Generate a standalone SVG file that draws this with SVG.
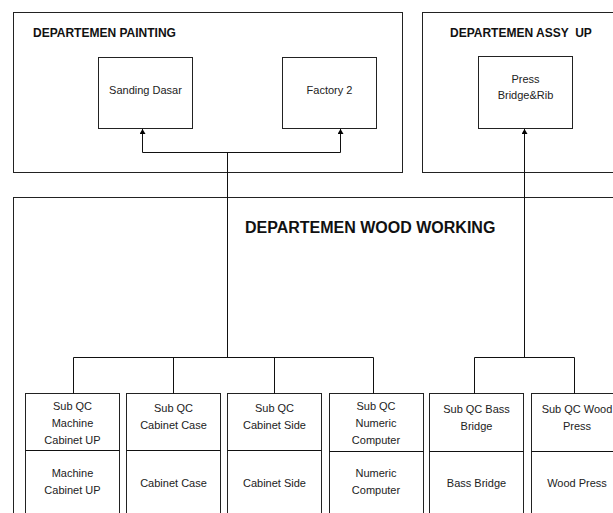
<svg xmlns="http://www.w3.org/2000/svg" width="613" height="513" viewBox="0 0 613 513">
<defs>
<marker id="arr" markerWidth="6" markerHeight="6" refX="5" refY="3" orient="auto" markerUnits="userSpaceOnUse">
<path d="M0,0 L5,3 L0,6 Z" fill="#000"/>
</marker>
<style>
.b{fill:#fff;stroke:#222;stroke-width:1}
.t{font-family:"Liberation Sans",Arial,sans-serif;font-size:12px;font-weight:bold;fill:#111}
.n{font-family:"Liberation Sans",Arial,sans-serif;font-size:11px;fill:#222;text-anchor:middle}
.c{fill:none;stroke:#111;stroke-width:1}
</style>
</defs>
<g id="dept-painting">
<rect class="b" x="13.5" y="12.5" width="389" height="160"/>
<text class="t" x="33" y="37">DEPARTEMEN PAINTING</text>
</g>
<g id="dept-assy">
<rect class="b" x="422.5" y="12.5" width="200" height="160"/>
<text class="t" x="450" y="37" xml:space="preserve">DEPARTEMEN ASSY  UP</text>
</g>
<g id="dept-wood">
<rect class="b" x="13.5" y="197.5" width="620" height="330"/>
<text class="t" x="245" y="233" style="font-size:16px">DEPARTEMEN WOOD WORKING</text>
</g>
<g id="sanding-dasar">
<rect class="b" x="98.5" y="57.5" width="94" height="71"/>
<text class="n" x="145.5" y="94">Sanding Dasar</text>
</g>
<g id="factory-2">
<rect class="b" x="282.5" y="57.5" width="94" height="71"/>
<text class="n" x="329.5" y="94">Factory 2</text>
</g>
<g id="press-bridge">
<rect class="b" x="478.5" y="56.5" width="94" height="72"/>
<text class="n" x="525.5" y="83">Press</text>
<text class="n" x="525.5" y="99">Bridge&amp;Rib</text>
</g>
<g id="qc-machine">
<rect class="b" x="25.5" y="393.5" width="94" height="130"/>
<line class="c" x1="25.5" y1="450.5" x2="119.5" y2="450.5"/>
<text class="n" x="72.5" y="410">Sub QC</text>
<text class="n" x="72.5" y="427">Machine</text>
<text class="n" x="72.5" y="444">Cabinet UP</text>
<text class="n" x="72.5" y="477">Machine</text>
<text class="n" x="72.5" y="494">Cabinet UP</text>
</g>
<g id="qc-case">
<rect class="b" x="126.5" y="393.5" width="94" height="130"/>
<line class="c" x1="126.5" y1="450.5" x2="220.5" y2="450.5"/>
<text class="n" x="173.5" y="412">Sub QC</text>
<text class="n" x="173.5" y="429">Cabinet Case</text>
<text class="n" x="173.5" y="487">Cabinet Case</text>
</g>
<g id="qc-side">
<rect class="b" x="227.5" y="393.5" width="94" height="130"/>
<line class="c" x1="227.5" y1="450.5" x2="321.5" y2="450.5"/>
<text class="n" x="274.5" y="412">Sub QC</text>
<text class="n" x="274.5" y="429">Cabinet Side</text>
<text class="n" x="274.5" y="487">Cabinet Side</text>
</g>
<g id="qc-numeric">
<rect class="b" x="329.5" y="393.5" width="94" height="130"/>
<line class="c" x1="329.5" y1="451.5" x2="423.5" y2="451.5"/>
<text class="n" x="376" y="410">Sub QC</text>
<text class="n" x="376" y="427">Numeric</text>
<text class="n" x="376" y="444">Computer</text>
<text class="n" x="376" y="477">Numeric</text>
<text class="n" x="376" y="494">Computer</text>
</g>
<g id="qc-bass">
<rect class="b" x="429.5" y="393.5" width="94" height="130"/>
<line class="c" x1="429.5" y1="451.5" x2="523.5" y2="451.5"/>
<text class="n" x="476.5" y="413">Sub QC Bass</text>
<text class="n" x="476.5" y="430">Bridge</text>
<text class="n" x="476.5" y="487">Bass Bridge</text>
</g>
<g id="qc-wood">
<rect class="b" x="531.5" y="393.5" width="94" height="130"/>
<line class="c" x1="531.5" y1="451.5" x2="625.5" y2="451.5"/>
<text class="n" x="577" y="413">Sub QC Wood</text>
<text class="n" x="577" y="430">Press</text>
<text class="n" x="577" y="487">Wood Press</text>
</g>
<g id="connectors">
<path class="c" d="M227.5,357.5 V152.5"/>
<path class="c" d="M142.5,152.5 H340.5"/>
<path class="c" d="M142.5,152.5 V129" marker-end="url(#arr)"/>
<path class="c" d="M340.5,152.5 V129" marker-end="url(#arr)"/>
<path class="c" d="M524.5,357.5 V129" marker-end="url(#arr)"/>
<path class="c" d="M73.5,357.5 H373.5 M73.5,357.5 V393.5 M173.5,357.5 V393.5 M274.5,357.5 V393.5 M373.5,357.5 V393.5"/>
<path class="c" d="M474.5,357.5 H574.5 M474.5,357.5 V393.5 M574.5,357.5 V393.5"/>
</g>
</svg>
